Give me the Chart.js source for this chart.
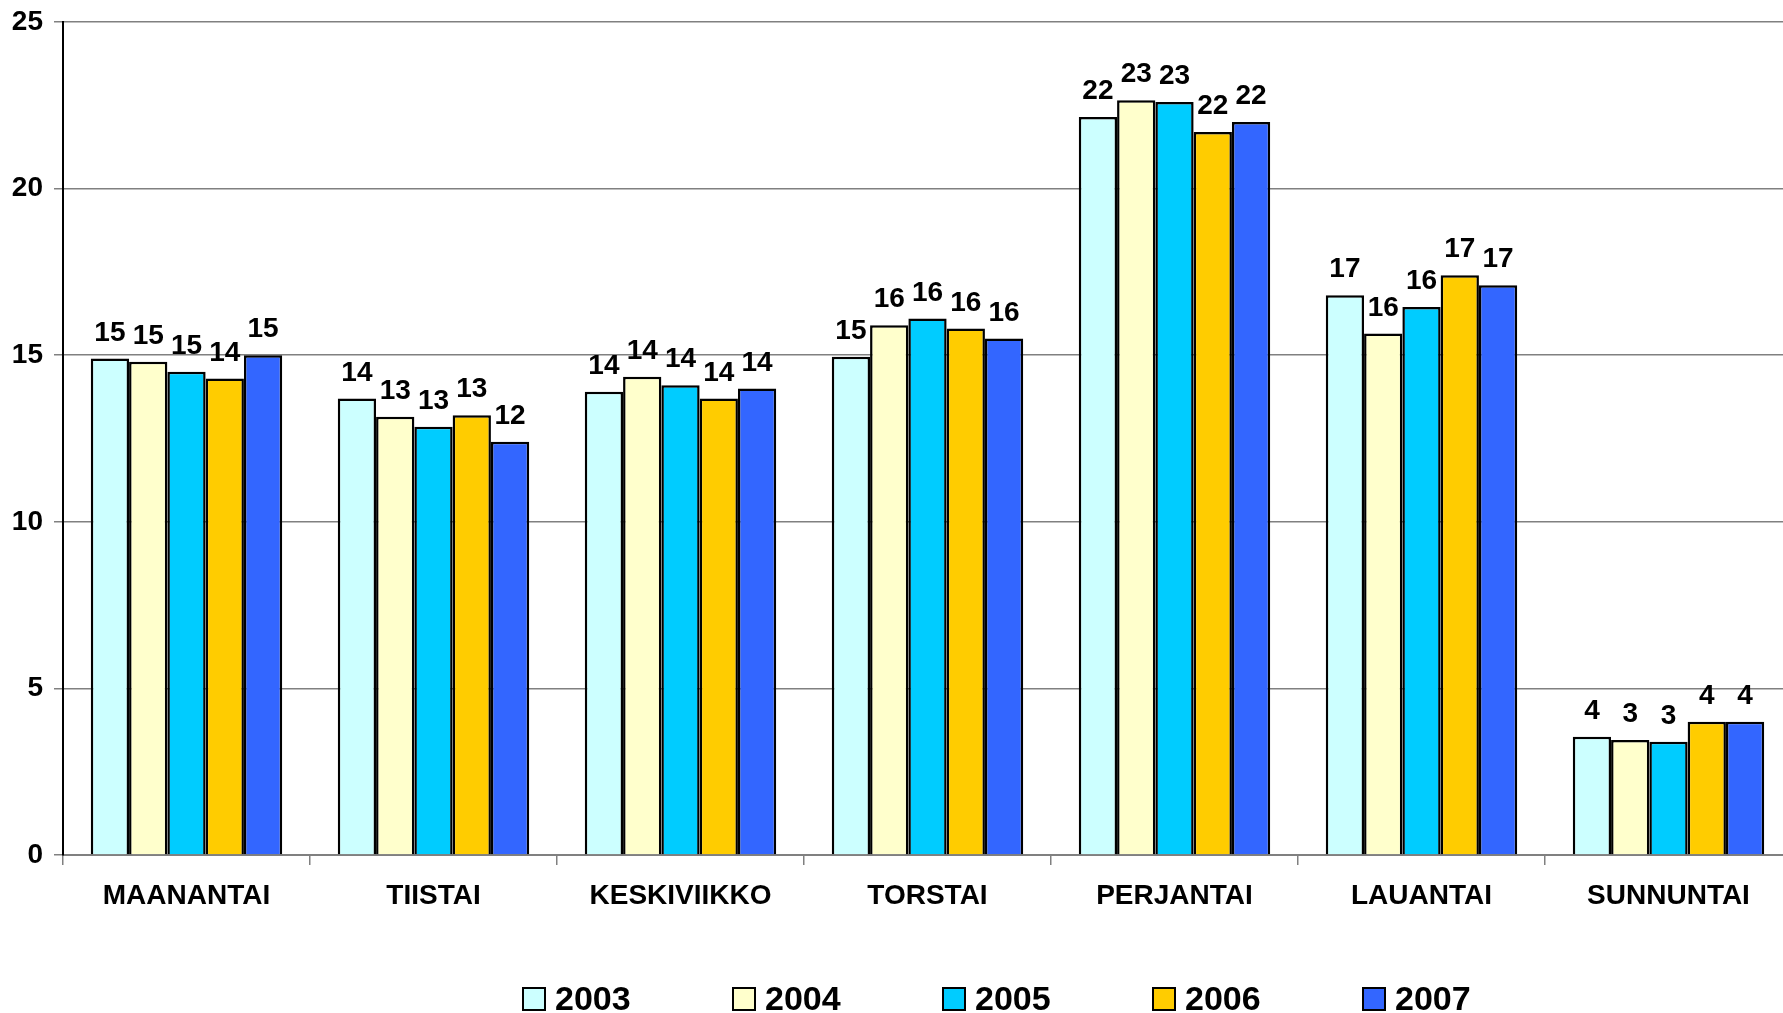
<!DOCTYPE html>
<html>
<head>
<meta charset="utf-8">
<script src="https://cdn.jsdelivr.net/npm/chart.js@4/dist/chart.umd.min.js"></script>
<style>
  html, body { margin: 0; padding: 0; background: #fff; overflow: hidden; }
  #wrap { width: 1792px; height: 1013px; }
</style>
</head>
<body>
<div id="wrap"><canvas id="myChart" width="1792" height="1013"></canvas></div>
<script>
// paivat ja vuodet
const categories = ["MAANANTAI", "TIISTAI", "KESKIVIIKKO", "TORSTAI", "PERJANTAI", "LAUANTAI", "SUNNUNTAI"];
const years = ["2003", "2004", "2005", "2006", "2007"];

// arvot luettu kuvasta
const v2003 = [14.9, 13.7, 13.9, 14.95, 22.15, 16.8, 3.55];
const v2004 = [14.8, 13.15, 14.35, 15.9, 22.65, 15.65, 3.45];
const v2005 = [14.5, 12.85, 14.1, 16.1, 22.6, 16.45, 3.4];
const v2006 = [14.3, 13.2, 13.7, 15.8, 21.7, 17.4, 4.0];
const v2007 = [15.0, 12.4, 14.0, 15.5, 22.0, 17.1, 4.0];

const yTicks = [0, 5, 10, 15, 20, 25];

const colors = ["#CCFFFF", "#FFFFCC", "#00CCFF", "#FFCC00", "#3366FF"];
const series = [v2003, v2004, v2005, v2006, v2007];

const FONT = "'Liberation Sans', Arial, sans-serif";

// arvot pylvaiden paalle
const valueLabels = {
  id: "valueLabels",
  afterDatasetsDraw(chart) {
    const c = chart.ctx;
    c.save();
    c.font = "bold 28px " + FONT;
    c.fillStyle = "#000";
    c.textAlign = "center";
    c.textBaseline = "alphabetic";
    chart.data.datasets.forEach((ds, i) => {
      const meta = chart.getDatasetMeta(i);
      meta.data.forEach((bar, j) => {
        c.fillText(Math.round(ds.data[j]), bar.x, bar.y - 18);
      });
    });
    c.restore();
  }
};

// oma selite alareunaan
const bottomLegend = {
  id: "bottomLegend",
  afterDraw(chart) {
    const c = chart.ctx;
    c.save();
    c.font = "bold 34px " + FONT;
    c.textBaseline = "middle";
    c.textAlign = "left";
    chart.data.datasets.forEach((ds, i) => {
      const x = 523 + i * 210;
      const y = 999;
      c.fillStyle = ds.backgroundColor;
      c.fillRect(x, y - 11, 22, 22);
      c.strokeStyle = "#000";
      c.lineWidth = 2;
      c.strokeRect(x, y - 11, 22, 22);
      c.fillStyle = "#000";
      c.fillText(ds.label, x + 32, y + 2);
    });
    c.restore();
  }
};

const ctx = document.getElementById("myChart");

new Chart(ctx, {
  type: "bar",
  data: {
    labels: categories,
    datasets: years.map((y, i) => ({
      label: y,
      data: series[i],
      backgroundColor: colors[i],
      borderColor: "#000",
      borderWidth: 2.5,
      borderSkipped: "bottom",
      categoryPercentage: 0.775,
      barPercentage: 1.0
    }))
  },
  options: {
    responsive: false,
    devicePixelRatio: 1,
    animation: false,
    layout: { padding: { top: 22, right: 0, bottom: 0, left: 0 } },
    plugins: {
      legend: { display: false },
      tooltip: { enabled: false }
    },
    scales: {
      x: {
        afterFit(scale) { scale.height = 158; },
        grid: { display: true, drawOnChartArea: false, drawTicks: true, tickLength: 10, color: "#808080", lineWidth: 1.5 },
        border: { color: "#808080", width: 2 },
        ticks: {
          color: "#000",
          font: { family: FONT, size: 28, weight: "bold" },
          padding: 14,
          maxRotation: 0,
          autoSkip: false
        }
      },
      y: {
        min: 0,
        max: 25,
        afterFit(scale) {
          scale.width = 63;
          scale.paddingTop = 0;
          scale.paddingBottom = 0;
        },
        afterBuildTicks(scale) { scale.ticks = yTicks.map(v => ({ value: v })); },
        grid: { color: "#808080", lineWidth: 1.5, tickLength: 9, drawTicks: true },
        border: { color: "#000", width: 2 },
        ticks: {
          color: "#000",
          font: { family: FONT, size: 28, weight: "bold" },
          padding: 11
        }
      }
    }
  },
  plugins: [valueLabels, bottomLegend]
});
</script>
</body>
</html>
